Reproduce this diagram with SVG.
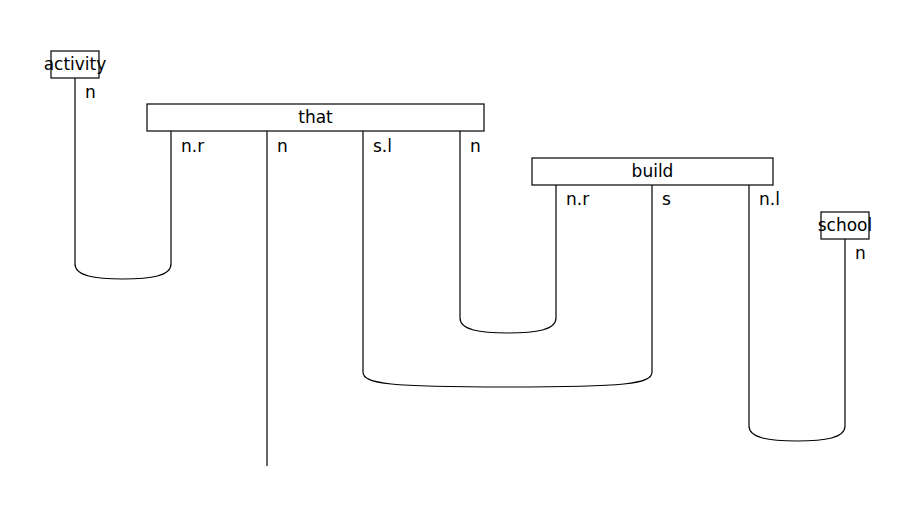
<svg xmlns="http://www.w3.org/2000/svg" width="919" height="519" viewBox="0 0 919 519">
<style>
.box{fill:#fff;stroke:#000;stroke-width:1.2}
.w{fill:none;stroke:#000;stroke-width:1.2}
text{font-family:"DejaVu Sans",sans-serif;font-size:17px;fill:#000}
.c{text-anchor:middle;dominant-baseline:central}
.l{dominant-baseline:central}
</style>
<rect width="919" height="519" fill="#fff"/>
<g id="wires">
<path class="w" d="M75,78 V264 C75,276 95,279 123,279 C151,279 171,276 171,264 V131"/>
<path class="w" d="M267,131 V466"/>
<path class="w" d="M363,131 V372 C363,384 390,387 507.5,387 C625,387 652,384 652,372 V185"/>
<path class="w" d="M460,131 V318 C460,330 480,333 508,333 C536,333 556,330 556,318 V185"/>
<path class="w" d="M749,185 V426 C749,438 769,441 797,441 C825,441 845,438 845,426 V239"/>
</g>
<g id="activity">
<rect class="box" x="51" y="51" width="48" height="27"/>
<text class="c" x="75" y="64">activity</text>
<text class="l" x="85" y="92">n</text>
</g>
<g id="that">
<rect class="box" x="147" y="104" width="337" height="27"/>
<text class="c" x="315.5" y="117">that</text>
<text class="l" x="181" y="146">n.r</text>
<text class="l" x="277" y="146">n</text>
<text class="l" x="373" y="146">s.l</text>
<text class="l" x="470" y="146">n</text>
</g>
<g id="build">
<rect class="box" x="532" y="158" width="241" height="27"/>
<text class="c" x="652.5" y="171">build</text>
<text class="l" x="566" y="199">n.r</text>
<text class="l" x="662" y="199">s</text>
<text class="l" x="759" y="199">n.l</text>
</g>
<g id="school">
<rect class="box" x="821" y="212" width="48" height="27"/>
<text class="c" x="845" y="225">school</text>
<text class="l" x="855" y="253">n</text>
</g>
</svg>
